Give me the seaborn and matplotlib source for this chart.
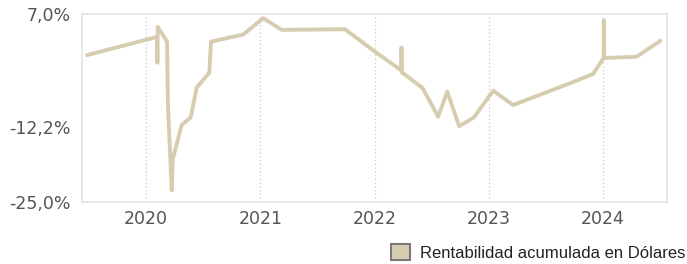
import numpy as np
import pandas as pd
import seaborn as sns
import matplotlib.pyplot as plt
from matplotlib.patches import Patch
from matplotlib.ticker import FuncFormatter

# fechas (año decimal) y rentabilidad acumulada (%)
fechas = [2019.484, 2020.096, 2020.100, 2020.103, 2020.184, 2020.192, 2020.225,
          2020.234, 2020.312, 2020.391, 2020.444, 2020.554, 2020.569, 2020.851,
          2021.026, 2021.187, 2021.741, 2022.003, 2022.235, 2022.236, 2022.238,
          2022.421, 2022.557, 2022.636, 2022.741, 2022.870, 2023.039, 2023.213,
          2023.709, 2023.913, 2024.005, 2024.007, 2024.009, 2024.293, 2024.503]
rentabilidad = [0.0, 3.1, -1.3, 4.8, 2.3, -8.5, -23.0,
                -17.7, -11.9, -10.6, -5.5, -3.0, 2.3, 3.5,
                6.3, 4.3, 4.4, 0.6, -2.6, 1.3, -2.9,
                -5.6, -10.5, -6.2, -12.1, -10.6, -6.05, -8.5,
                -4.8, -3.2, -0.5, 5.9, -0.5, -0.27, 2.45]
anios = [2020, 2021, 2022, 2023, 2024]
y_ticks = [7.0, -12.2, -25.0]
serie = 'Rentabilidad acumulada en Dólares'
color_linea = '#d6cdb1'

df = pd.DataFrame({'fecha': fechas, 'rent': rentabilidad})

sns.set_style('white')
plt.rcParams['font.family'] = ['DejaVu Sans']

fig = plt.figure(figsize=(6.87, 2.64), dpi=100)
ax = fig.add_axes([0.1194, 0.2348, 0.9709 - 0.1194, 0.947 - 0.2348])

sns.lineplot(data=df, x='fecha', y='rent', ax=ax, color=color_linea,
             linewidth=2.8, sort=False, estimator=None)

ax.set_xlim(2019.44, 2024.56)
ax.set_ylim(-25, 7)
ax.set_xticks(anios)
ax.set_xticklabels([str(a) for a in anios])
ax.set_yticks(y_ticks)
ax.yaxis.set_major_formatter(FuncFormatter(lambda v, p: f'{v:.1f}%'.replace('.', ',')))
ax.tick_params(axis='both', length=0, labelsize=12.5, labelcolor='#555555')
ax.tick_params(axis='x', pad=6)
ax.tick_params(axis='y', pad=8)
ax.set_xlabel('')
ax.set_ylabel('')

# rejilla vertical punteada
for a in anios:
    ax.axvline(a, color='#c8c8c8', linestyle=(0, (1, 2)), linewidth=0.9, zorder=0)

for s in ax.spines.values():
    s.set_color('#e8e8e8')
    s.set_linewidth(1.5)

handle = Patch(facecolor=color_linea, edgecolor='#7a7a7a', linewidth=1.5)
leg = fig.legend([handle], [serie], loc='lower right',
                 bbox_to_anchor=(1.019, -0.045), frameon=False,
                 handlelength=1.1, handleheight=1.1, handletextpad=0.6,
                 prop={'family': 'Liberation Sans', 'size': 12})
for t in leg.get_texts():
    t.set_color('#222222')

fig.savefig('out.png', dpi=100)
